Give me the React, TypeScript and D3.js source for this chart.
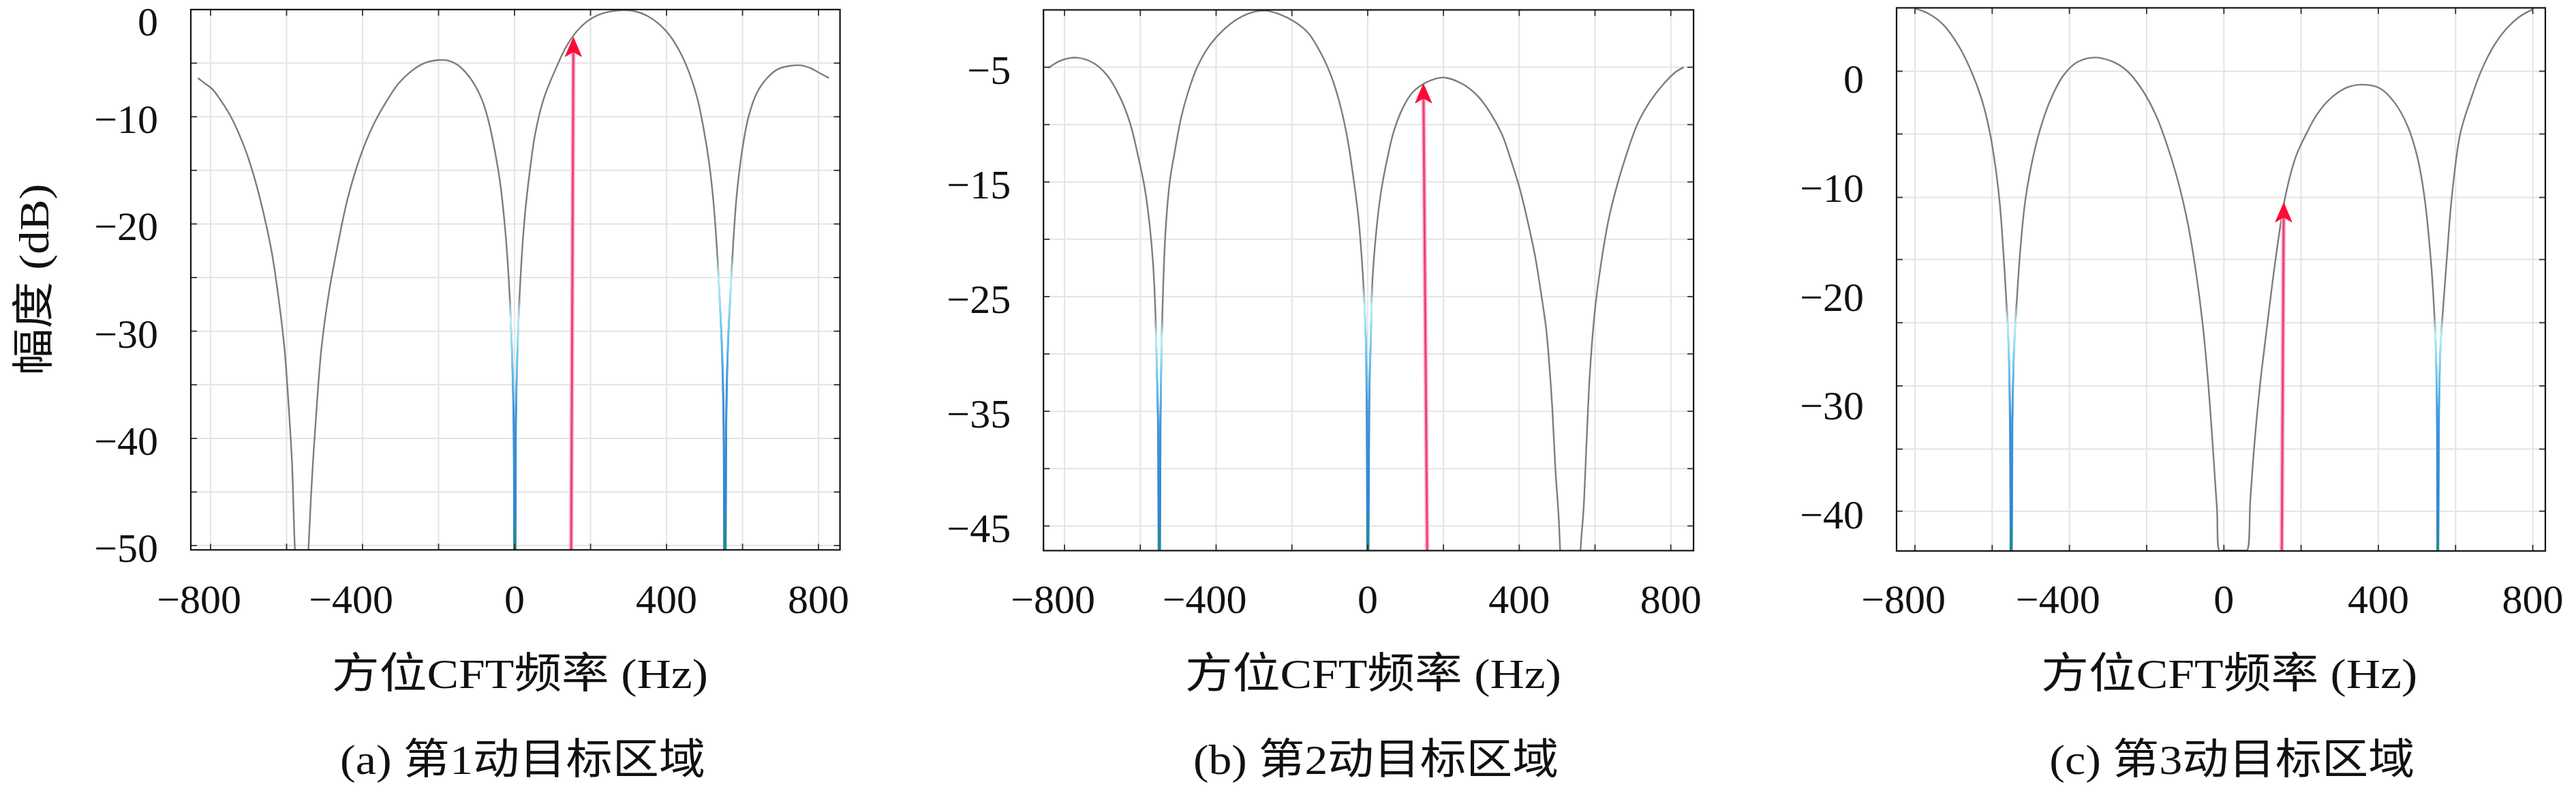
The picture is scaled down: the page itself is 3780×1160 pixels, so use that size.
import React from 'react';
import * as d3 from 'd3';

const W = 3780;
const H = 1160;

// Shared axis ticks (Hz)
const xGridTicks = [-800, -600, -400, -200, 0, 200, 400, 600, 800];
const xTickLabels = [-800, -400, 0, 400, 800];

// ---------- Panel (a) ----------
const freqA = [-833.2, -816.5, -794.3, -772.1, -749.9, -727.8, -705.6, -683.4, -661.3, -639.0, -622.4, -605.7, -594.6, -585.7, -578.0, -560, -542.5, -533.6, -522.5, -508.1, -489.2, -467.0, -439.3, -406.0, -372.8, -339.5, -306.2, -272.9, -239.6, -199.7, -173.1, -150.9, -128.7, -106.5, -84.3, -67.7, -51.0, -37.7, -26.6, -17.8, -11.1, -5.5, -2.2, 1, 3.3, 7.8, 15.5, 26.6, 39.9, 54.4, 76.5, 104.3, 137.6, 170.8, 204.1, 237.4, 281.8, 315.1, 348.4, 381.6, 409.4, 437.1, 459.3, 481.5, 498.1, 512.5, 523.6, 532.5, 540.3, 545.8, 550.3, 553.5, 556.9, 561.4, 568.1, 575.9, 584.8, 598.1, 614.8, 637.0, 664.7, 692.5, 725.8, 753.3, 781.0, 803.2, 827.6];
const dbA = [-6.39, -6.85, -7.46, -8.53, -9.78, -11.39, -13.35, -15.85, -18.89, -22.63, -26.56, -31.56, -36.92, -42.27, -50.41, -62, -50.41, -44.06, -37.99, -31.56, -26.56, -22.28, -17.64, -13.71, -10.85, -8.71, -6.93, -5.78, -5.03, -4.71, -4.78, -5.14, -5.86, -6.93, -8.53, -10.50, -13.35, -16.21, -19.78, -23.71, -27.99, -33.35, -38.70, -75, -38.70, -31.56, -25.13, -19.42, -15.14, -11.57, -8.35, -5.86, -3.36, -1.75, -0.79, -0.29, -0.07, -0.14, -0.57, -1.39, -2.46, -4.07, -5.86, -8.35, -11.21, -14.42, -17.99, -22.28, -27.28, -31.56, -38.70, -75, -38.70, -31.56, -26.56, -21.56, -17.28, -13.35, -10.14, -7.82, -6.39, -5.57, -5.25, -5.21, -5.50, -5.93, -6.39];
const yGridA = [0, -5, -10, -15, -20, -25, -30, -35, -40, -45, -50];
const yLabelsA = [0, -10, -20, -30, -40, -50];
const blueNullsA = [1, 553.5];
const blueStartA = [-27, -23];
const arrowA = { base: 149, tipFreq: 155, tip: -2.6 };

// ---------- Panel (b) ----------
const freqB = [-842, -811.1, -766.6, -722.1, -688.7, -655.3, -627.5, -605.3, -588.6, -575.2, -566.3, -560.5, -556.5, -553.2, -550, -547, -545, -543, -534, -522, -510, -492, -474, -450, -420, -384, -342, -300, -270, -234, -192, -156, -120, -96, -75, -54, -37, -24.8, -16, -9.9, -5.2, -2.5, 0.5, 4, 8.6, 12.4, 24.5, 36.5, 51, 68, 92, 117, 145, 170, 202, 252, 293, 326, 355, 380, 400.6, 421, 442, 458, 471, 479, 487, 495.5, 504, 508, 535, 561.6, 570, 578, 586, 599, 615, 636, 656.6, 681, 714, 747, 780, 813.5, 834];
const dbB = [-5.05, -4.43, -4.17, -4.67, -5.67, -7.50, -9.83, -12.83, -15.49, -18.82, -22.16, -26.15, -31.15, -36.15, -60, -36.15, -31.5, -27.9, -19.6, -14.9, -12.5, -9.35, -7.18, -5.0, -3.23, -1.85, -0.76, -0.17, -0.07, -0.37, -1.06, -2.05, -4.0, -5.8, -8.0, -11.1, -14.8, -18.0, -21.5, -24.8, -28.3, -34, -60, -34, -28.3, -23.7, -18.7, -15.6, -13.1, -10.7, -8.6, -7.25, -6.5, -6.1, -5.9, -6.5, -7.6, -9.1, -10.9, -13.3, -15.5, -18.25, -21.5, -24.8, -27.8, -30.8, -34.6, -40.1, -44.2, -47.2, -70, -47.2, -43.4, -37.4, -31.9, -26.4, -22.3, -18.25, -15.5, -12.8, -9.8, -7.9, -6.5, -5.4, -5.0];
const yGridB = [-5, -10, -15, -20, -25, -30, -35, -40, -45];
const yLabelsB = [-5, -15, -25, -35, -45];
const blueNullsB = [-550, 0.5];
const blueStartB = [-27, -24];
const arrowB = { base: 157, tipFreq: 147, tip: -6.45 };

// ---------- Panel (c) ----------
const freqC = [-800.4, -765.7, -726.1, -686.5, -656.8, -627.0, -607.2, -592.4, -580.5, -571.6, -563.7, -557.7, -553.8, -550.8, -547.9, -542.9, -536.0, -527.0, -515.2, -498.3, -476.5, -448.7, -414.1, -379.4, -334.8, -290.2, -250.7, -211.1, -176.4, -146.7, -117.0, -92.2, -72.4, -54.6, -40.7, -27.8, -17.9, -11.0, -3, 55, 60.6, 68.3, 79.2, 93.5, 113.1, 133.9, 159.0, 186.4, 213.7, 241.0, 273.7, 317.4, 361.1, 404.8, 443.0, 475.7, 500.8, 519.4, 535.8, 544.5, 548.9, 552.2, 553.8, 556.5, 560.8, 567.4, 577.2, 590.3, 612.2, 639.5, 666.8, 699.5, 732.3, 765.0, 800.0];
const dbC = [6.24, 5.78, 4.73, 2.79, 0.69, -2.12, -4.93, -8.09, -11.61, -15.82, -20.39, -24.60, -31.63, -60, -31.63, -24.60, -20.39, -15.82, -11.61, -8.09, -4.93, -2.12, 0.16, 1.32, 1.74, 1.39, 0.51, -1.24, -3.53, -6.33, -9.85, -13.71, -17.93, -22.84, -28.11, -34.43, -39.70, -43.56, -43.5, -43.5, -43.46, -38.98, -33.70, -28.36, -22.56, -16.77, -11.05, -7.35, -5.24, -3.49, -2.09, -1.03, -0.75, -1.10, -2.44, -4.54, -7.35, -11.05, -16.77, -21.40, -24.92, -31.94, -60, -31.94, -24.92, -21.40, -16.77, -11.05, -5.24, -2.09, 0.55, 2.83, 4.41, 5.47, 6.17];
const yGridC = [0.48, -5.28, -11.1, -16.8, -22.6, -28.4, -34.2, -39.9];
const yLabelsC = [0, -10, -20, -30, -40];
const blueNullsC = [-550.8, 553.8];
const blueStartC = [-21, -22];
const arrowC = { base: 150, tipFreq: 155, tip: -11.6 };

const captions = ['(a) 第1动目标区域', '(b) 第2动目标区域', '(c) 第3动目标区域'];
const xAxisTitle = '方位CFT频率 (Hz)';
const yAxisTitle = '幅度 (dB)';

const FONT = "'Liberation Serif', 'DejaVu Serif', 'Noto Sans CJK SC', serif";

const panels = [
  { id: 'a', left: 280, right: 1232.6, top: 14, bottom: 806.4, xDomain: [-852, 856.5], yDomain: [-50.4, 0], freq: freqA, db: dbA, yGrid: yGridA, yLabels: yLabelsA, nulls: blueNullsA, nullStart: blueStartA, arrow: arrowA, caption: captions[0] },
  { id: 'b', left: 1531.2, right: 2485.1, top: 14.5, bottom: 807.5, xDomain: [-855.6, 860], yDomain: [-47.15, 0], freq: freqB, db: dbB, yGrid: yGridB, yLabels: yLabelsB, nulls: blueNullsB, nullStart: blueStartB, arrow: arrowB, caption: captions[1] },
  { id: 'c', left: 2783, right: 3735, top: 11.5, bottom: 808, xDomain: [-847.7, 832.5], yDomain: [-43.55, 6.3], freq: freqC, db: dbC, yGrid: yGridC, yLabels: yLabelsC, nulls: blueNullsC, nullStart: blueStartC, arrow: arrowC, caption: captions[2] },
];

const fmt = (v: number) => (v < 0 ? '\u2212' + Math.abs(v) : String(v));

function Panel({ p }: { p: any }) {
  const x = d3.scaleLinear().domain(p.xDomain).range([p.left, p.right]);
  const y = d3.scaleLinear().domain(p.yDomain).range([p.bottom, p.top]);
  const pts: [number, number][] = p.freq.map((f: number, i: number) => [f, p.db[i]]);
  const line = d3
    .line<[number, number]>()
    .x((d) => x(d[0]))
    .y((d) => y(d[1]))
    .curve(d3.curveCatmullRom.alpha(0.5));
  const path = line(pts) || '';
  const clipId = `clip-${p.id}`;
  const tickLen = 9;
  const tickFs = 60;
  const bx = x(p.arrow.base);
  const tx = x(p.arrow.tipFreq);
  const tipY = y(p.arrow.tip);
  const headL = 28;
  const headW = 12;
  const ang = Math.atan2(tx - bx, p.bottom - tipY);
  const cosA = Math.cos(ang);
  const sinA = Math.sin(ang);
  // point at distance d back along shaft, offset s perpendicular
  const pt = (d: number, s: number) => {
    const px = tx - d * sinA + s * cosA;
    const py = tipY + d * cosA + s * sinA;
    return `${px},${py}`;
  };
  const neck = pt(headL - 7, 0).split(',').map(Number);
  const cx = x(0);

  return (
    <g>
      <defs>
        <clipPath id={clipId}>
          <rect x={p.left} y={p.top} width={p.right - p.left} height={p.bottom - p.top} />
        </clipPath>
        {p.nulls.map((n: number, i: number) => (
          <React.Fragment key={i}>
            <linearGradient
              id={`grad-${p.id}-${i}`}
              gradientUnits="userSpaceOnUse"
              x1={0}
              x2={0}
              y1={y(p.nullStart[i])}
              y2={p.bottom}
            >
              <stop offset="0" stopColor="#8c9aa0" />
              <stop offset="0.08" stopColor="#b8eef8" />
              <stop offset="0.25" stopColor="#6cc6ee" />
              <stop offset="0.45" stopColor="#3d94de" />
              <stop offset="0.85" stopColor="#2f86d4" />
              <stop offset="1" stopColor="#1f8a8a" />
            </linearGradient>
            <clipPath id={`nclip-${p.id}-${i}`}>
              <rect
                x={x(n - 20)}
                y={y(p.nullStart[i])}
                width={x(n + 20) - x(n - 20)}
                height={p.bottom - y(p.nullStart[i])}
              />
            </clipPath>
          </React.Fragment>
        ))}
      </defs>

      {/* grid */}
      <g stroke="#e4e4e4" strokeWidth={2}>
        {xGridTicks.map((t) => (
          <line key={'gx' + t} x1={x(t)} x2={x(t)} y1={p.top} y2={p.bottom} />
        ))}
        {p.yGrid.map((t: number) => (
          <line key={'gy' + t} x1={p.left} x2={p.right} y1={y(t)} y2={y(t)} />
        ))}
      </g>

      {/* curve */}
      <g clipPath={`url(#${clipId})`}>
        <path d={path} fill="none" stroke="#7d7d7d" strokeWidth={2.4} strokeLinejoin="round" />
        {p.nulls.map((n: number, i: number) => (
          <g key={'bn' + i} clipPath={`url(#nclip-${p.id}-${i})`}>
            <path d={path} fill="none" stroke={`url(#grad-${p.id}-${i})`} strokeWidth={3} />
          </g>
        ))}
        {/* arrow */}
        <line x1={bx} x2={neck[0]} y1={p.bottom} y2={neck[1]} stroke="#ffc2d6" strokeWidth={7} />
        <line x1={bx} x2={neck[0]} y1={p.bottom} y2={neck[1]} stroke="#e8437c" strokeWidth={3.2} />
        <path
          d={`M${tx},${tipY} L${pt(headL, -headW)} L${pt(headL - 7, 0)} L${pt(headL, headW)} Z`}
          fill="#ff0a36"
          stroke="#ff0a36"
          strokeWidth={1}
          strokeLinejoin="round"
        />
      </g>

      {/* ticks */}
      <g stroke="#333" strokeWidth={1.8}>
        {xGridTicks.map((t) => (
          <React.Fragment key={'tx' + t}>
            <line x1={x(t)} x2={x(t)} y1={p.bottom} y2={p.bottom - tickLen} />
            <line x1={x(t)} x2={x(t)} y1={p.top} y2={p.top + tickLen} />
          </React.Fragment>
        ))}
        {p.yGrid.map((t: number) => (
          <React.Fragment key={'ty' + t}>
            <line x1={p.left} x2={p.left + tickLen} y1={y(t)} y2={y(t)} />
            <line x1={p.right} x2={p.right - tickLen} y1={y(t)} y2={y(t)} />
          </React.Fragment>
        ))}
      </g>

      {/* frame */}
      <rect
        x={p.left}
        y={p.top}
        width={p.right - p.left}
        height={p.bottom - p.top}
        fill="none"
        stroke="#111"
        strokeWidth={2.2}
      />

      {/* tick labels */}
      <g fontFamily={FONT} fontSize={tickFs} fill="#111">
        {xTickLabels.map((t) => {
          const digits = String(Math.abs(t)).length;
          return (
            <text key={'lx' + t} x={x(t) + digits * 0.25 * tickFs} y={899} textAnchor="end">
              {fmt(t)}
            </text>
          );
        })}
        {p.yLabels.map((t: number) => (
          <text
            key={'ly' + t}
            x={p.left - 48}
            y={Math.max(y(t) + 4, p.top + 18)}
            textAnchor="end"
            dominantBaseline="central"
          >
            {fmt(t)}
          </text>
        ))}
      </g>

      {/* x axis title */}
      <text
        x={cx + 8}
        y={1009}
        textAnchor="middle"
        fontFamily={FONT}
        fontSize={62}
        fill="#111"
        textLength={552}
        lengthAdjust="spacingAndGlyphs"
      >
        {xAxisTitle}
      </text>

      {/* caption */}
      <text
        x={cx + 12}
        y={1135}
        textAnchor="middle"
        fontFamily={FONT}
        fontSize={62}
        fill="#111"
        textLength={536}
        lengthAdjust="spacingAndGlyphs"
      >
        {p.caption}
      </text>
    </g>
  );
}

export default function App() {
  return (
    <svg
      width={W}
      height={H}
      viewBox={`0 0 ${W} ${H}`}
      style={{ position: 'absolute', left: 0, top: 0, background: '#ffffff' }}
    >
      <rect x={0} y={0} width={W} height={H} fill="#ffffff" />
      {panels.map((p) => (
        <Panel key={p.id} p={p} />
      ))}
      <text
        transform={`translate(50,410) rotate(-90)`}
        textAnchor="middle"
        dominantBaseline="central"
        fontFamily={FONT}
        fontSize={62}
        fill="#111"
        textLength={281}
        lengthAdjust="spacingAndGlyphs"
      >
        {yAxisTitle}
      </text>
    </svg>
  );
}
